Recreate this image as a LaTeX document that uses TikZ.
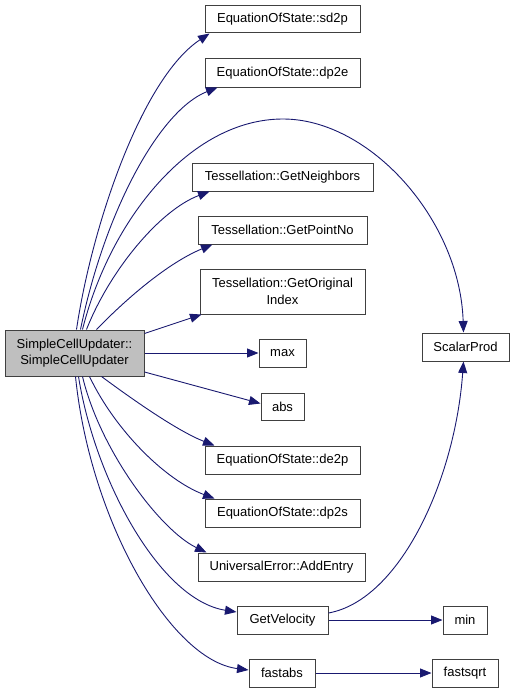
\documentclass[tikz,border=0pt]{standalone}
\usepackage{fontspec}
\setmainfont{Liberation Sans}
\usetikzlibrary{arrows.meta}
\definecolor{edgeblue}{RGB}{25,25,112}
\definecolor{boxgray}{RGB}{191,191,191}
\definecolor{bordergray}{RGB}{64,64,64}
\tikzset{
  fn/.style={draw=bordergray, line width=1pt, fill=white, inner sep=0pt,
    font=\fontsize{13}{16.5}\selectfont, align=center},
  call/.style={draw=edgeblue, line width=0.9pt, -{Triangle[length=11.5pt,width=9pt]}},
}
\begin{document}
\begin{tikzpicture}[x=1pt,y=-1pt]
\useasboundingbox (0,0) rectangle (515,693);
% nodes
\node[fn, fill=boxgray, minimum width=139pt, minimum height=46pt] (scu) at (74.5,353) {SimpleCellUpdater::\\SimpleCellUpdater};
\node[fn, minimum width=155pt, minimum height=27pt] (sd2p) at (282.5,19.5) {EquationOfState::sd2p};
\node[fn, minimum width=155pt, minimum height=28pt] (dp2e) at (282.5,73) {EquationOfState::dp2e};
\node[fn, minimum width=181pt, minimum height=28pt] (gn) at (282.5,177) {Tessellation::GetNeighbors};
\node[fn, minimum width=169pt, minimum height=28pt] (gp) at (282.5,230) {Tessellation::GetPointNo};
\node[fn, minimum width=165pt, minimum height=45pt] (goi) at (282.5,291.5) {Tessellation::GetOriginal\\Index};
\node[fn, minimum width=47pt, minimum height=28pt] (max) at (282.5,353) {max};
\node[fn, minimum width=43pt, minimum height=27pt] (abs) at (282.5,406.5) {abs};
\node[fn, minimum width=155pt, minimum height=28pt] (de2p) at (282.5,460) {EquationOfState::de2p};
\node[fn, minimum width=155pt, minimum height=28pt] (dp2s) at (282.5,513) {EquationOfState::dp2s};
\node[fn, minimum width=167pt, minimum height=28pt] (ae) at (281.5,567) {UniversalError::AddEntry};
\node[fn, minimum width=91pt, minimum height=28pt] (gv) at (282.5,620) {GetVelocity};
\node[fn, minimum width=66pt, minimum height=28pt] (fa) at (282,673) {fastabs};
\node[fn, minimum width=87pt, minimum height=28pt] (sp) at (465.5,347) {ScalarProd};
\node[fn, minimum width=44pt, minimum height=28pt] (min) at (465,620) {min};
\node[fn, minimum width=66pt, minimum height=28pt] (fsq) at (465,673) {fastsqrt};
% edges
\draw[call] ([xshift=72pt]scu.north west) .. controls (92,225) and (142,78) .. ([xshift=5pt]sd2p.south west);
\draw[call] ([xshift=76pt]scu.north west) .. controls (105,210) and (160,110) .. ([xshift=13pt]dp2e.south west);
\draw[call] ([xshift=78pt]scu.north west) .. controls (110,220) and (190,119) .. (283,119)
  .. controls (370,119) and (460,220) .. ([xshift=-2pt]sp.north);
\draw[call] ([xshift=82pt]scu.north west) .. controls (110,270) and (160,210) .. ([xshift=18pt]gn.south west);
\draw[call] ([xshift=92pt]scu.north west) .. controls (130,295) and (170,262) .. ([xshift=15pt]gp.south west);
\draw[call] ([yshift=-4pt]scu.north east) -- ([xshift=2pt]goi.south west);
\draw[call] (scu.east) -- (max.west);
\draw[call] ([yshift=-19pt]scu.east) -- ([yshift=3pt]abs.west);
\draw[call] ([xshift=97pt]scu.south west) .. controls (140,405) and (180,432) .. ([xshift=10pt]de2p.north west);
\draw[call] ([xshift=85pt]scu.south west) .. controls (115,430) and (165,480) .. ([xshift=10pt]dp2s.north west);
\draw[call] ([xshift=78pt]scu.south west) .. controls (100,450) and (160,530) .. ([xshift=9pt]ae.north west);
\draw[call] ([xshift=74pt]scu.south west) .. controls (95,480) and (160,600) .. ([yshift=8pt]gv.west);
\draw[call] ([xshift=71pt]scu.south west) .. controls (90,520) and (170,660) .. ([yshift=3pt]fa.west);
\draw[call] ([yshift=7pt]gv.east) .. controls (400,600) and (455,480) .. ([xshift=-2pt]sp.south);
\draw[call] (gv.east) -- (min.west);
\draw[call] (fa.east) -- (fsq.west);
\end{tikzpicture}
\end{document}
